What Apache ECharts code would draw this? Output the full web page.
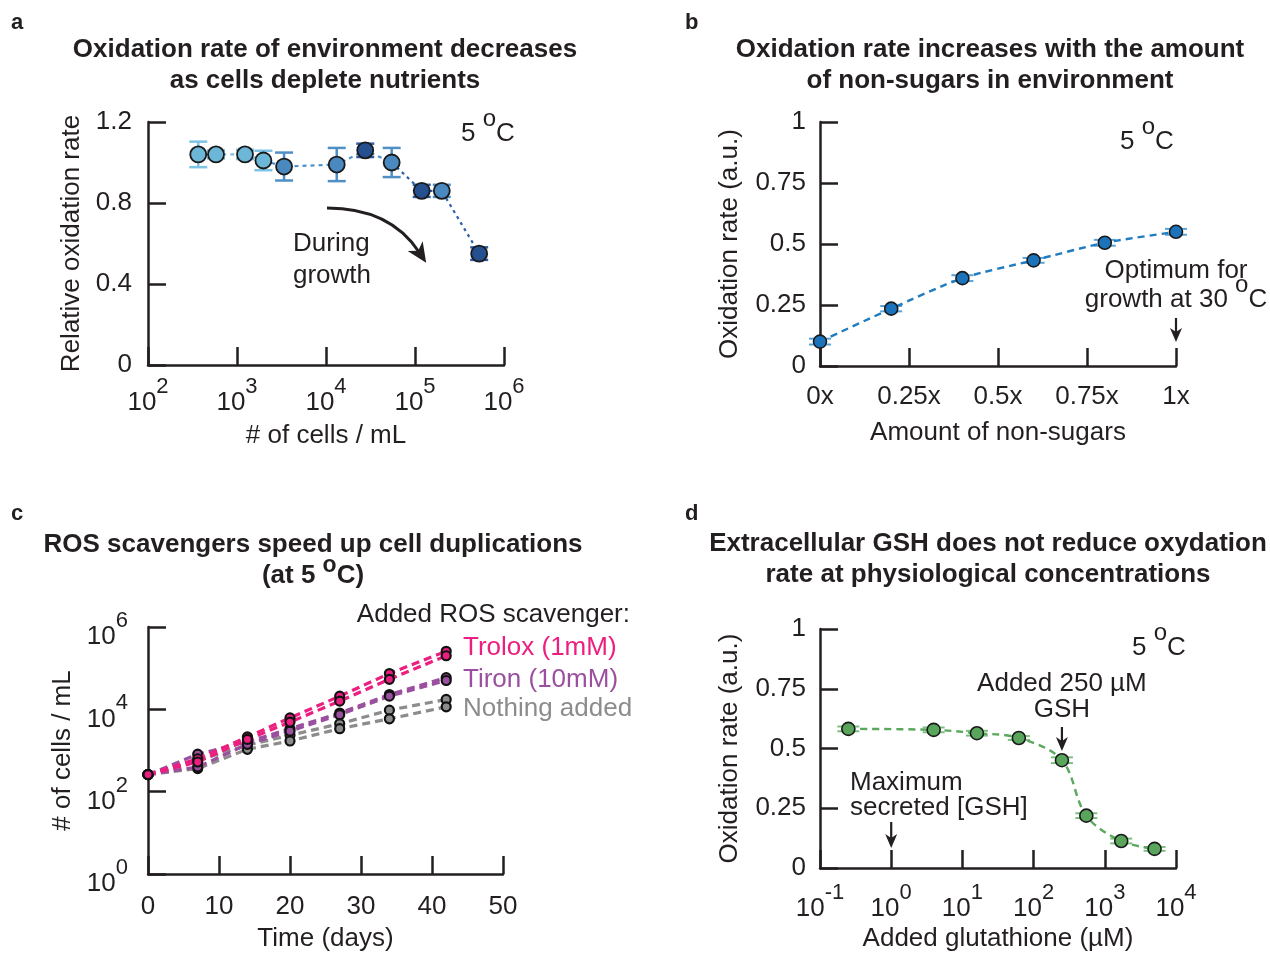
<!DOCTYPE html>
<html>
<head>
<meta charset="utf-8">
<script src="https://cdn.jsdelivr.net/npm/echarts@6/dist/echarts.min.js"></script>
<style>
  html, body { margin: 0; padding: 0; background: #ffffff; }
  #chart { width: 1270px; height: 953px; }
</style>
</head>
<body>
<div id="chart"></div>
<script>
// ---- a: oxidation rate vs. cell density ----
const cellDensity   = [367, 581, 1230, 1980, 3380, 13200, 27600, 54700, 119000, 200000, 526000];
const relOxidation  = [1.04, 1.04, 1.04, 1.01, 0.98, 0.99, 1.06, 1.00, 0.86, 0.86, 0.55];
const relOxidationErr = [0.063, 0.02, 0.023, 0.048, 0.069, 0.082, 0.033, 0.072, 0.03, 0.03, 0.031];
const growthPhase   = ['early', 'early', 'early', 'early', 'mid', 'mid', 'late', 'mid', 'late', 'mid', 'late'];

// ---- b: oxidation rate vs. amount of non-sugars ----
const nonSugarAmount = [0, 0.2, 0.4, 0.6, 0.8, 1.0];
const oxidationB     = [0.10, 0.235, 0.36, 0.433, 0.505, 0.55];
const oxidationBErr  = [0.012, 0.011, 0.012, 0.010, 0.012, 0.012];
const nonSugarTicks  = ['0x', '0.25x', '0.5x', '0.75x', '1x'];

// ---- c: growth curves with ROS scavengers (two replicates each) ----
const days         = [0, 7, 14, 20, 27, 34, 42];
const troloxRep1   = [260, 631, 2140, 6170, 20900, 74100, 257000];
const troloxRep2   = [260, 525, 1860, 4900, 15800, 53700, 200000];
const tironRep1    = [260, 813, 1620, 3390, 8130, 22900, 58900];
const tironRep2    = [260, 398, 1410, 2950, 7410, 20900, 50100];
const nothingRep1  = [260, 575, 1350, 2340, 4470, 9550, 17400];
const nothingRep2  = [260, 363, 1070, 1700, 3390, 5890, 11500];
const scavengerNames = ['Trolox (1mM)', 'Tiron (10mM)', 'Nothing added'];

// ---- d: oxidation rate vs. added glutathione ----
const glutathione = [0.25, 3.95, 16, 62, 250, 550, 1700, 5000];
const oxidationD  = [0.582, 0.578, 0.564, 0.544, 0.451, 0.219, 0.113, 0.080];
const oxidationDErr = [0.010, 0.010, 0.010, 0.008, 0.012, 0.010, 0.010, 0.008];
const addedGSH = 250;        // µM, marked with an arrow
const maxSecretedGSH = 1;    // µM, marked with an arrow

const FONT = "'Liberation Sans', Arial, Helvetica, sans-serif";
const INK = '#231f20';
const FS = 26;

const phaseFill = { early: '#6cb6d8', mid: '#4a88c0', late: '#24508f' };
const phaseBar  = { early: '#7dc3e3', mid: '#4f8fc6', late: '#2f5ea6' };

// "10" with a raised exponent
const supRich = {
  b: { fontSize: FS, fontFamily: FONT, color: INK, padding: [14, 0, 0, 0], verticalAlign: 'bottom' },
  s: { fontSize: 22, fontFamily: FONT, color: INK, verticalAlign: 'top' }
};
const powLabel = v => '{b|10}{s|' + Math.round(Math.log10(v)) + '}';

function axis(extra) {
  const base = {
    axisLine: { show: true, onZero: false, lineStyle: { color: INK, width: 2.5 } },
    axisTick: { show: true, inside: true, length: 18, lineStyle: { color: INK, width: 2.5 } },
    splitLine: { show: false },
    nameLocation: 'middle',
    nameTextStyle: { color: INK, fontSize: FS, fontFamily: FONT }
  };
  const out = Object.assign(base, extra);
  out.axisLabel = Object.assign({ color: INK, fontSize: FS, fontFamily: FONT }, extra.axisLabel || {});
  return out;
}

// vertical error bars with caps; colour picked per point
function errorBarRenderer(colorOf, capHalfWidth, width) {
  return function (params, api) {
    const x = api.value(0), y = api.value(1), e = api.value(2);
    const top = api.coord([x, y + e]);
    const bot = api.coord([x, y - e]);
    const hw = capHalfWidth;
    const st = { stroke: colorOf(params.dataIndex), lineWidth: width };
    return {
      type: 'group',
      children: [
        { type: 'line', shape: { x1: top[0], y1: top[1], x2: bot[0], y2: bot[1] }, style: st },
        { type: 'line', shape: { x1: top[0] - hw, y1: top[1], x2: top[0] + hw, y2: top[1] }, style: st },
        { type: 'line', shape: { x1: bot[0] - hw, y1: bot[1], x2: bot[0] + hw, y2: bot[1] }, style: st }
      ]
    };
  };
}

const pairsA = cellDensity.map((x, i) => [x, relOxidation[i]]);
const pairsB = nonSugarAmount.map((x, i) => [x, oxidationB[i]]);
const pairsD = glutathione.map((x, i) => [x, oxidationD[i]]);
const pairsC = rep => days.map((d, i) => [d, rep[i]]);

const titleStyle = { color: INK, fontSize: 26, fontWeight: 'bold', fontFamily: FONT, lineHeight: 31 };
const letterStyle = { color: INK, fontSize: 22, fontWeight: 'bold', fontFamily: FONT };

function growthLine(rep, color, z) {
  return {
    type: 'line', xAxisIndex: 2, yAxisIndex: 2, data: pairsC(rep),
    symbol: 'circle', symbolSize: 9, z: z,
    lineStyle: { color: color, width: 3.2, type: [8, 5] },
    itemStyle: { color: color, borderColor: '#111', borderWidth: 2.2 }
  };
}

const option = {
  animation: false,
  backgroundColor: '#ffffff',
  textStyle: { fontFamily: FONT },
  title: [
    { text: 'a', left: 11, top: 12, padding: 0, textStyle: letterStyle },
    { text: 'b', left: 685, top: 12, padding: 0, textStyle: letterStyle },
    { text: 'c', left: 11, top: 503, padding: 0, textStyle: letterStyle },
    { text: 'd', left: 685, top: 503, padding: 0, textStyle: letterStyle },
    { text: 'Oxidation rate of environment decreases\nas cells deplete nutrients', left: 325, top: 34, textAlign: 'center', padding: 0, textStyle: titleStyle },
    { text: 'Oxidation rate increases with the amount\nof non-sugars in environment', left: 990, top: 34, textAlign: 'center', padding: 0, textStyle: titleStyle },
    { text: 'ROS scavengers speed up cell duplications', left: 313, top: 529, textAlign: 'center', padding: 0, textStyle: titleStyle },
    { text: '{t|(at 5 }{o|o}{t|C)}', left: 313, top: 554, textAlign: 'center', padding: 0,
      textStyle: { rich: {
        t: { fontSize: 26, fontWeight: 'bold', fontFamily: FONT, color: INK, padding: [9, 0, 0, 0], verticalAlign: 'bottom' },
        o: { fontSize: 23, fontWeight: 'bold', fontFamily: FONT, color: INK, verticalAlign: 'top' }
      } } },
    { text: 'Extracellular GSH does not reduce oxydation\nrate at physiological concentrations', left: 988, top: 528, textAlign: 'center', padding: 0, textStyle: titleStyle }
  ],
  grid: [
    { left: 148, top: 122, width: 356, height: 243 },
    { left: 820, top: 122, width: 356, height: 244 },
    { left: 148, top: 627, width: 355, height: 247 },
    { left: 820, top: 629, width: 356, height: 244 }
  ],
  xAxis: [
    axis({ gridIndex: 0, type: 'log', logBase: 10, min: 100, max: 1e6, name: '# of cells / mL', nameGap: 58,
      axisLabel: { margin: 11, formatter: powLabel, rich: supRich } }),
    axis({ gridIndex: 1, type: 'value', min: 0, max: 1, interval: 0.25, name: 'Amount of non-sugars', nameGap: 54,
      axisLabel: { margin: 18, formatter: v => nonSugarTicks[Math.round(v / 0.25)] } }),
    axis({ gridIndex: 2, type: 'value', min: 0, max: 50, interval: 10, name: 'Time (days)', nameGap: 52,
      axisLabel: { margin: 20 } }),
    axis({ gridIndex: 3, type: 'log', logBase: 10, min: 0.1, max: 1e4, name: 'Added glutathione (µM)', nameGap: 58,
      axisLabel: { margin: 14, formatter: powLabel, rich: supRich } })
  ],
  yAxis: [
    axis({ gridIndex: 0, type: 'value', min: 0, max: 1.2, interval: 0.4, name: 'Relative oxidation rate', nameGap: 63,
      axisLabel: { margin: 16 } }),
    axis({ gridIndex: 1, type: 'value', min: 0, max: 1, interval: 0.25, name: 'Oxidation rate (a.u.)', nameGap: 77,
      axisLabel: { margin: 14 } }),
    axis({ gridIndex: 2, type: 'log', logBase: 100, min: 1, max: 1e6, splitNumber: 3, name: '# of cells / mL', nameGap: 72,
      axisLabel: { margin: 20, padding: [6, 0, 0, 0], formatter: powLabel, rich: supRich } }),
    axis({ gridIndex: 3, type: 'value', min: 0, max: 1, interval: 0.25, name: 'Oxidation rate (a.u.)', nameGap: 77,
      axisLabel: { margin: 14 } })
  ],
  series: [
    // a: trend line in three shades, error bars, points
    { type: 'line', xAxisIndex: 0, yAxisIndex: 0, data: pairsA.slice(0, 4), symbol: 'none', z: 2,
      lineStyle: { color: phaseBar.early, width: 2.2, type: [4, 4] } },
    { type: 'line', xAxisIndex: 0, yAxisIndex: 0, data: pairsA.slice(3, 8), symbol: 'none', z: 2,
      lineStyle: { color: phaseBar.mid, width: 2.2, type: [4, 4] } },
    { type: 'line', xAxisIndex: 0, yAxisIndex: 0, data: pairsA.slice(7), symbol: 'none', z: 2,
      lineStyle: { color: phaseBar.late, width: 2.2, type: [3, 4] } },
    { type: 'custom', xAxisIndex: 0, yAxisIndex: 0, z: 3,
      renderItem: errorBarRenderer(i => phaseBar[growthPhase[i]], 9, 2.5),
      data: cellDensity.map((x, i) => [x, relOxidation[i], relOxidationErr[i]]) },
    { type: 'scatter', xAxisIndex: 0, yAxisIndex: 0, data: pairsA, symbolSize: 16, z: 4,
      itemStyle: { color: p => phaseFill[growthPhase[p.dataIndex]], borderColor: '#1a1a1a', borderWidth: 1.8, opacity: 1 } },

    // b
    { type: 'custom', xAxisIndex: 1, yAxisIndex: 1, z: 3,
      renderItem: errorBarRenderer(() => '#5aa3d8', 11, 2),
      data: nonSugarAmount.map((x, i) => [x, oxidationB[i], oxidationBErr[i]]) },
    { type: 'line', xAxisIndex: 1, yAxisIndex: 1, data: pairsB, smooth: 0.25, symbol: 'circle', symbolSize: 13, z: 4,
      lineStyle: { color: '#1f7cc1', width: 2.4, type: [7, 5] },
      itemStyle: { color: '#1b74bb', borderColor: '#1a1a1a', borderWidth: 1.6 } },

    // c
    growthLine(nothingRep1, '#8c8c8c', 3), growthLine(nothingRep2, '#8c8c8c', 3),
    growthLine(tironRep1, '#9b4f9f', 4), growthLine(tironRep2, '#9b4f9f', 4),
    growthLine(troloxRep1, '#ec1f80', 5), growthLine(troloxRep2, '#ec1f80', 5),

    // d
    { type: 'custom', xAxisIndex: 3, yAxisIndex: 3, z: 3,
      renderItem: errorBarRenderer(() => '#7cc080', 11, 2),
      data: glutathione.map((x, i) => [x, oxidationD[i], oxidationDErr[i]]) },
    { type: 'line', xAxisIndex: 3, yAxisIndex: 3, data: pairsD, smooth: 0.35, symbol: 'circle', symbolSize: 13, z: 4,
      lineStyle: { color: '#5aa85e', width: 2.4, type: [7, 5] },
      itemStyle: { color: '#59a55c', borderColor: '#1a1a1a', borderWidth: 1.6 } }
  ]
};

const chart = echarts.init(document.getElementById('chart'), null, { renderer: 'canvas' });
chart.setOption(option);

// ---- annotations ----
function txt(text, x, y, extra) {
  return {
    type: 'text', x: x, y: y, z: 10,
    style: Object.assign({ text: text, fill: INK, font: FS + 'px ' + FONT,
      align: 'left', verticalAlign: 'middle', textAlign: 'left', textVerticalAlign: 'middle' }, extra || {})
  };
}
const degRich = {
  n: { fontSize: FS, fontFamily: FONT, color: INK, padding: [14, 0, 0, 0], verticalAlign: 'bottom' },
  s: { fontSize: 24, fontFamily: FONT, color: INK, verticalAlign: 'top' }
};
function degText(prefix, x, y, align) {
  return txt('{n|' + prefix + '}{s|o}{n|C}', x, y, { rich: degRich, align: align || 'left', textAlign: align || 'left' });
}
function head(tx, ty, ang, len, hw) {
  const dx = Math.cos(ang), dy = Math.sin(ang), nx = -dy, ny = dx;
  const bx = tx - dx * len, by = ty - dy * len;
  const mx = tx - dx * len * 0.72, my = ty - dy * len * 0.72;
  return { type: 'polygon', z: 10, shape: { points: [[tx, ty], [bx + nx * hw, by + ny * hw], [mx, my], [bx - nx * hw, by - ny * hw]] },
    style: { fill: INK } };
}
function downArrow(x, y0, y1) {
  return [
    { type: 'line', z: 10, shape: { x1: x, y1: y0, x2: x, y2: y1 - 6 }, style: { stroke: INK, lineWidth: 2.2 } },
    head(x, y1, Math.PI / 2, 14, 6)
  ];
}

const xOpt = chart.convertToPixel({ gridIndex: 1 }, [1, 0])[0];
const xGSH = chart.convertToPixel({ gridIndex: 3 }, [addedGSH, 0])[0];
const xMax = chart.convertToPixel({ gridIndex: 3 }, [maxSecretedGSH, 0])[0];

const curveEnd = [419, 252], curveCtl = [390, 208];
const curveAng = Math.atan2(curveEnd[1] - curveCtl[1], curveEnd[0] - curveCtl[0]);

const graphics = [
  // a
  degText('5 ', 461, 127),
  txt('During', 293, 244),
  txt('growth', 293, 276),
  { type: 'bezierCurve', z: 10, shape: { x1: 327, y1: 208, cpx1: curveCtl[0], cpy1: curveCtl[1], x2: curveEnd[0], y2: curveEnd[1] },
    style: { stroke: INK, lineWidth: 3, fill: null } },
  head(curveEnd[0] + Math.cos(curveAng) * 13, curveEnd[1] + Math.sin(curveAng) * 13, curveAng, 20, 9),
  // b
  degText('5 ', 1120, 135),
  txt('Optimum for', xOpt, 271, { align: 'center', textAlign: 'center' }),
  degText('growth at 30 ', xOpt, 293, 'center'),
  ...downArrow(xOpt, 318, 342),
  // c
  txt('Added ROS scavenger:', 630, 615, { align: 'right', textAlign: 'right' }),
  txt(scavengerNames[0], 463, 648, { fill: '#ec1f80' }),
  txt(scavengerNames[1], 463, 680, { fill: '#9b4f9f' }),
  txt(scavengerNames[2], 463, 709, { fill: '#8c8c8c' }),
  // d
  degText('5 ', 1132, 641),
  txt('Added 250 µM', xGSH, 684, { align: 'center', textAlign: 'center' }),
  txt('GSH', xGSH, 710, { align: 'center', textAlign: 'center' }),
  ...downArrow(xGSH, 727, 751),
  txt('Maximum', 850, 783),
  txt('secreted [GSH]', 850, 808),
  ...downArrow(xMax, 822, 848)
];
chart.setOption({ graphic: graphics });
</script>
</body>
</html>
